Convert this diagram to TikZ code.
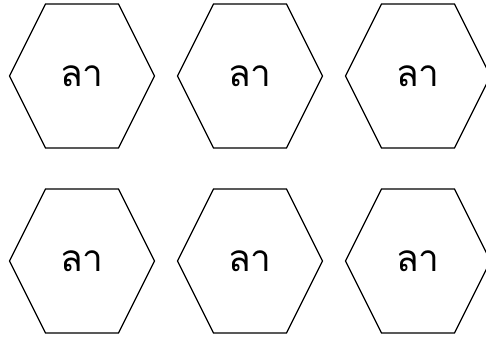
\documentclass[tikz,border=0pt]{standalone}
\usepackage{fontspec}
\newfontfamily\thaifont[Script=Thai]{Loma}

\begin{document}
\begin{tikzpicture}[x=1pt, y=1pt,
  hexlabel/.style={font=\thaifont\fontsize{37}{40}\selectfont, inner sep=0pt},
  hexline/.style={line width=1.2pt, line join=miter}]

  \useasboundingbox (0,0) rectangle (486,338);

  % upper row of hexagons
  \foreach \i/\cx in {1/82,2/250,3/418} {
    \node[hexlabel] (upper\i) at (\cx,262) {ลา};
    \draw[hexline] (upper\i.center) ++(-72.5,0) -- ++(36,72) -- ++(73,0)
      -- ++(36,-72) -- ++(-36,-72) -- ++(-73,0) -- cycle;
  }

  % lower row of hexagons
  \foreach \i/\cx in {1/82,2/250,3/418} {
    \node[hexlabel] (lower\i) at (\cx,77) {ลา};
    \draw[hexline] (lower\i.center) ++(-72.5,0) -- ++(36,72) -- ++(73,0)
      -- ++(36,-72) -- ++(-36,-72) -- ++(-73,0) -- cycle;
  }

\end{tikzpicture}
\end{document}
